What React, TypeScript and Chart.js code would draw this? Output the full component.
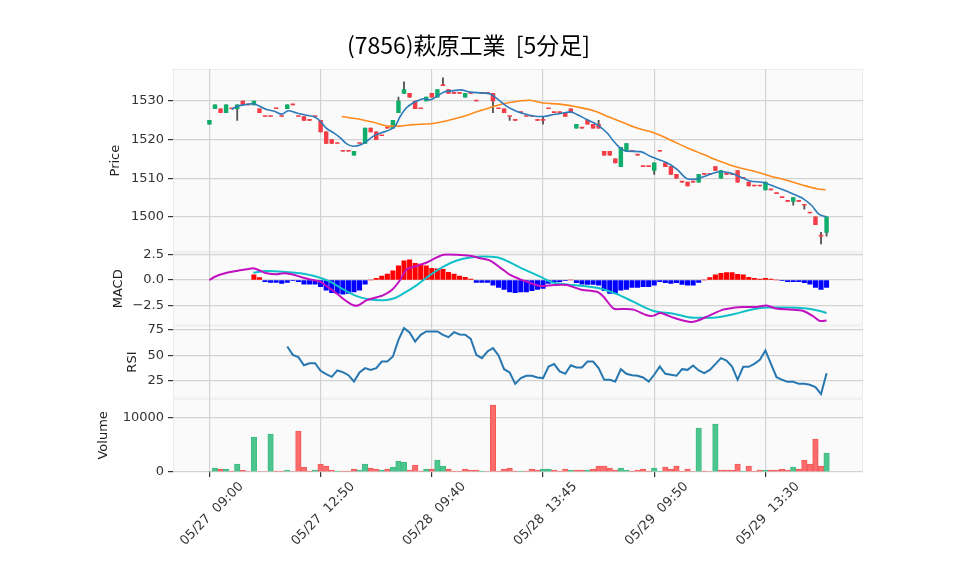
import { useEffect, useRef } from 'react';
import { Chart, registerables } from 'chart.js';

Chart.register(...registerables);

// ---------- data ----------
const titleText = '(7856)萩原工業  [5分足]';

const tickIndex = [0, 20, 40, 60, 80, 100];
const tickLabels = ['05/27  09:00', '05/27  12:50', '05/28  09:40', '05/28  13:45', '05/29  09:50', '05/29  13:30'];

const priceTicks = [1500, 1510, 1520, 1530];
const macdTicks = [-2.5, 0, 2.5];
const rsiTicks = [25, 50, 75];
const volumeTicks = [0, 10000];

const opens = [
  1524, 1528, 1528, 1527, 1528, 1528, 1530, 1529, 1529, 1528,
  1526, 1526, 1528, 1526, 1528, 1529, 1526, 1526, 1525, 1526,
  1525, 1522, 1520, 1519, 1517, 1517, 1516, 1519, 1519, 1523,
  1522, 1521, 1523, 1523, 1527, 1532, 1532, 1530, 1528, 1530,
  1532, 1531, 1534, 1533, 1532, 1532, 1531, 1532, 1530, 1532,
  1532, 1532, 1528, 1528, 1526, 1525, 1527, 1526, 1526, 1525,
  1525, 1528, 1527, 1527, 1527, 1528, 1523, 1523, 1525, 1524,
  1524, 1517, 1517, 1515, 1513, 1517, 1517, 1516, 1513, 1513,
  1512, 1517, 1514, 1513, 1511, 1509, 1509, 1509, 1509, 1511,
  1511, 1513, 1510, 1511, 1511, 1512, 1510, 1509, 1508, 1508,
  1507, 1507, 1506, 1505, 1504, 1504, 1504, 1503, 1501, 1500,
  1495, 1496,
];
const closes = [
  1525, 1529, 1527, 1529, 1528, 1529, 1529, 1529, 1530, 1527,
  1526, 1526, 1528, 1526, 1529, 1529, 1526, 1525, 1525, 1526,
  1522, 1519, 1519, 1519, 1517, 1517, 1517, 1519, 1523, 1522,
  1520, 1521, 1523, 1525, 1530, 1533, 1531, 1528, 1528, 1531,
  1531, 1533, 1534, 1532, 1532, 1532, 1532, 1532, 1530, 1532,
  1532, 1530, 1528, 1527, 1526, 1525, 1527, 1526, 1526, 1525,
  1525, 1528, 1527, 1527, 1526, 1527, 1524, 1523, 1524, 1523,
  1523, 1516, 1516, 1514, 1518, 1519, 1517, 1516, 1513, 1513,
  1514, 1517, 1513, 1511, 1510, 1509, 1508, 1509, 1511, 1511,
  1511, 1512, 1512, 1511, 1511, 1509, 1510, 1508, 1508, 1508,
  1509, 1507, 1506, 1505, 1504, 1505, 1504, 1503, 1501, 1498,
  1495, 1500,
];
const highs = [
  1525, 1529, 1528, 1529, 1528, 1529, 1530, 1529, 1530, 1528,
  1526, 1526, 1528, 1526, 1529, 1529, 1526, 1526, 1525, 1526,
  1525, 1522, 1520, 1519, 1517, 1517, 1517, 1519, 1523, 1523,
  1522, 1521, 1523, 1525, 1531, 1535, 1532, 1530, 1528, 1531,
  1532, 1533, 1536, 1533, 1532, 1532, 1532, 1532, 1530, 1532,
  1532, 1532, 1528, 1528, 1526, 1525, 1527, 1526, 1526, 1525,
  1526, 1528, 1527, 1527, 1527, 1528, 1524, 1523, 1525, 1524,
  1525, 1517, 1517, 1515, 1518, 1519, 1517, 1516, 1513, 1513,
  1514, 1517, 1514, 1513, 1511, 1509, 1509, 1509, 1511, 1511,
  1511, 1513, 1512, 1511, 1511, 1512, 1510, 1509, 1508, 1508,
  1509, 1507, 1506, 1505, 1504, 1505, 1504, 1503, 1501, 1500,
  1496, 1500,
];
const lows = [
  1524, 1528, 1527, 1527, 1528, 1525, 1529, 1529, 1529, 1527,
  1526, 1526, 1528, 1526, 1528, 1529, 1526, 1525, 1525, 1526,
  1522, 1519, 1519, 1519, 1517, 1517, 1516, 1519, 1519, 1522,
  1520, 1521, 1523, 1523, 1527, 1532, 1531, 1528, 1528, 1530,
  1531, 1531, 1534, 1532, 1532, 1532, 1531, 1532, 1530, 1532,
  1532, 1527, 1528, 1527, 1525, 1525, 1527, 1526, 1526, 1525,
  1524, 1528, 1527, 1527, 1526, 1527, 1523, 1523, 1524, 1523,
  1523, 1516, 1516, 1514, 1513, 1517, 1517, 1516, 1513, 1513,
  1511, 1517, 1513, 1511, 1510, 1509, 1508, 1509, 1509, 1511,
  1511, 1512, 1510, 1511, 1511, 1509, 1510, 1508, 1508, 1508,
  1507, 1507, 1506, 1505, 1504, 1503, 1504, 1502, 1501, 1498,
  1493, 1495,
];

const volumes = [
  100, 730, 490, 490, 180, 1460, 365, 100, 6390, 100,
  100, 6940, 180, 180, 365, 100, 7490, 850, 180, 365,
  1460, 1100, 365, 180, 180, 180, 550, 365, 1460, 730,
  550, 365, 550, 910, 2010, 1770, 365, 1280, 180, 550,
  550, 2190, 1100, 550, 180, 180, 550, 365, 365, 180,
  100, 12240, 180, 550, 730, 180, 180, 180, 550, 365,
  550, 550, 365, 180, 550, 365, 365, 365, 365, 550,
  1100, 1100, 730, 365, 730, 365, 180, 365, 550, 180,
  730, 180, 910, 550, 1100, 180, 550, 100, 8040, 180,
  100, 8770, 365, 365, 365, 1460, 180, 1100, 180, 365,
  365, 365, 365, 550, 365, 910, 550, 2190, 1460, 6030,
  1100, 3470,
];
// 1 = up (green) volume bar, 0 = down (red)
const volumeUp = [
  1, 1, 0, 1, 0, 1, 0, 0, 1, 0,
  0, 1, 0, 0, 1, 0, 0, 0, 0, 1,
  0, 0, 0, 1, 0, 0, 0, 1, 1, 0,
  0, 1, 0, 1, 1, 1, 0, 0, 0, 1,
  0, 1, 1, 0, 0, 0, 0, 0, 0, 1,
  0, 0, 0, 0, 0, 0, 1, 0, 0, 0,
  1, 1, 0, 0, 0, 1, 0, 0, 1, 0,
  0, 0, 0, 0, 1, 1, 0, 0, 0, 0,
  1, 1, 0, 0, 0, 0, 0, 0, 1, 0,
  0, 1, 0, 0, 0, 0, 1, 0, 0, 0,
  1, 0, 0, 0, 0, 1, 0, 0, 0, 0,
  0, 1,
];

// moving averages, read as [bar index, price]
const ma5Points = [
  [4, 1527.8], [4.9, 1528.6], [6.1, 1529.0], [7.9, 1529.3], [9.1, 1528.6], [10.3, 1527.8], [11.8, 1527.3],
  [13, 1526.6], [14.2, 1527.5], [15.7, 1526.9], [17.5, 1526.3], [19, 1525.8], [20, 1524.7], [21, 1523],
  [22.3, 1521.8], [23.5, 1520.5], [24.7, 1518.9], [25.9, 1518.3], [27.1, 1518.6], [28.3, 1519.6],
  [29.5, 1520.9], [31, 1521.8], [32.5, 1522.6], [33.4, 1523.5], [34.3, 1526], [35.4, 1528.2],
  [36.6, 1529.5], [37.8, 1530.3], [38.5, 1530.6], [39.7, 1530.3], [40.9, 1531.2], [42.1, 1532.3],
  [43.9, 1532.7], [45.1, 1532.9], [46.9, 1532.3], [49, 1532.1], [50.5, 1531.8], [52, 1530.3],
  [53.5, 1528.6], [55.3, 1527.3], [57.1, 1526.5], [58.9, 1526], [60.1, 1526], [61.9, 1526.5],
  [63.7, 1526.9], [64.9, 1527.2], [66, 1526.6], [67.9, 1525.2], [69.7, 1523.9], [71.5, 1521.8],
  [72.7, 1519.6], [73.9, 1517.8], [75.1, 1517], [77.5, 1516.9], [79.3, 1515.7], [80.5, 1515],
  [82.3, 1514], [84.1, 1512.3], [85.9, 1509.9], [87.1, 1509.7], [88.8, 1510.4], [90.6, 1511.3],
  [91.8, 1511.7], [93.6, 1511.4], [95.4, 1510.4], [97.2, 1509.3], [99.6, 1508.9], [101.4, 1508],
  [103.2, 1507], [105, 1505.9], [106.9, 1504.6], [108.4, 1502.8], [109.6, 1500.7], [111, 1500],
];
const ma25Points = [
  [23.8, 1526], [26.5, 1525.4], [29.5, 1524.5], [32.5, 1523.5], [34.3, 1523.5], [36.6, 1523.9],
  [39.7, 1524.1], [42.1, 1524.7], [45.1, 1525.8], [48.1, 1527.2], [51.1, 1528.6], [54, 1529.6],
  [57.4, 1530.2], [60, 1529.5], [63, 1529.2], [66, 1528.5], [69.1, 1527.5], [72, 1525.8],
  [73.9, 1524.7], [76.9, 1523], [79.9, 1521.8], [82.8, 1520], [85.9, 1517.9], [88.8, 1516.2],
  [91.8, 1514.4], [94.8, 1512.9], [97.8, 1511.9], [100.8, 1510.6], [103.8, 1509.5], [106.8, 1508.2],
  [109.2, 1507.3], [110.8, 1507],
];

// MACD panel, read as [bar index, value]
const macdPoints = [
  [0, 0], [1, 0.32], [2.8, 0.65], [4.9, 0.88], [6.7, 1.04], [7.9, 1.14], [9.1, 0.91], [10.3, 0.65],
  [12.1, 0.55], [13.3, 0.65], [14.8, 0.55], [16.3, 0.32], [18.1, 0.06], [19.9, -0.16], [21.4, -0.71],
  [22.9, -1.3], [24.4, -1.95], [25.9, -2.44], [26.8, -2.44], [28.3, -1.95], [29.8, -1.72], [31.3, -1.46],
  [32.8, -0.97], [34.3, 0], [35.5, 1.04], [37.3, 1.36], [39.1, 1.69], [40.6, 2.11], [42.1, 2.44],
  [44.5, 2.44], [46.9, 2.34], [48.7, 2.11], [50.5, 1.88], [52.3, 1.2], [54.1, 0.49], [55.9, 0.06],
  [57.1, -0.16], [59.5, -0.58], [61.9, -0.49], [64.3, -0.49], [66.7, -0.91], [69.7, -1.14], [70.9, -1.62],
  [72.7, -2.76], [74.5, -2.79], [76.3, -2.86], [78.7, -3.41], [79.9, -3.44], [81.1, -3.18], [83.5, -3.64],
  [86.5, -4.06], [87.6, -3.96], [90, -3.41], [92.4, -2.86], [94.2, -2.69], [96, -2.6], [98.4, -2.6],
  [100.2, -2.47], [102, -2.76], [104.4, -2.86], [106.8, -2.99], [108.6, -3.5], [109.8, -3.96], [111, -3.9],
];
const signalPoints = [
  [7.9, 0.71], [10.3, 0.88], [13.3, 0.81], [16.3, 0.65], [19.3, 0.32], [21.7, -0.16], [24.1, -0.91],
  [26.5, -1.56], [28.9, -1.88], [31.3, -1.95], [33.1, -1.79], [34.9, -1.3], [37.3, -0.49], [39.7, 0.49],
  [42.1, 1.3], [44.5, 1.88], [46.9, 2.18], [49.3, 2.27], [51.7, 2.21], [54.1, 1.69], [55.9, 1.2],
  [59.5, 0.32], [61.3, -0.16], [64.3, -0.42], [67.3, -0.58], [70.3, -0.81], [73.3, -1.36], [76.3, -2.11],
  [79.9, -2.99], [83.5, -3.25], [87.1, -3.64], [90.6, -3.64], [94.2, -3.31], [97.8, -2.82], [100.2, -2.66],
  [103.8, -2.66], [107.4, -2.76], [109.8, -2.99], [111, -3.18],
];
const macdHist = [
  null, null, null, null, null, null, null, null, 0.49, 0.23,
  -0.16, -0.23, -0.23, -0.32, -0.23, -0.06, -0.16, -0.39, -0.39, -0.39,
  -0.65, -0.97, -1.23, -1.3, -1.36, -1.3, -1.14, -0.97, -0.39, 0,
  0.16, 0.39, 0.58, 0.88, 1.36, 1.85, 1.95, 1.62, 1.53, 1.36,
  1.14, 1.07, 1.04, 0.75, 0.58, 0.39, 0.26, 0.1, -0.23, -0.23,
  -0.23, -0.49, -0.71, -0.91, -1.14, -1.23, -1.14, -1.14, -1.04, -0.91,
  -0.81, -0.32, -0.16, -0.16, -0.06, 0, -0.26, -0.39, -0.42, -0.42,
  -0.49, -1.04, -1.3, -1.3, -0.97, -0.91, -0.71, -0.71, -0.65, -0.65,
  -0.49, -0.16, -0.26, -0.32, -0.26, -0.42, -0.49, -0.49, -0.23, 0,
  0.23, 0.49, 0.65, 0.71, 0.71, 0.55, 0.49, 0.26, 0.16, 0.1,
  0.16, 0.1, 0, -0.06, -0.16, -0.16, -0.16, -0.26, -0.39, -0.71,
  -0.91, -0.71,
];

// RSI, per bar (starts at bar 14)
const rsiValues = [
  null, null, null, null, null, null, null, null, null, null,
  null, null, null, null, 58.6, 50.3, 48, 40, 42, 42,
  34.4, 31.1, 28.5, 34.8, 33.1, 30.1, 23.8, 32.8, 37.1, 35.4,
  37.1, 43.7, 43.7, 48.7, 65.2, 76.8, 72.5, 63.6, 70.2, 73.5,
  73.5, 73.5, 70.2, 67.9, 72.8, 70.5, 70.2, 66.2, 50.3, 47,
  53.6, 57, 49.7, 36, 32.8, 21.5, 27.2, 29.5, 29.5, 27.8,
  27.2, 38.7, 41.1, 33.8, 31.5, 40, 37.7, 37.7, 43.7, 43.7,
  37.1, 25.5, 25.5, 23.8, 36.1, 31.5, 30.1, 29.5, 27.8, 23.8,
  30.5, 38.7, 31.5, 30.5, 29.5, 36.1, 35.4, 39.7, 34.8, 32.1,
  35.4, 41.1, 47, 44.7, 38.7, 25.5, 38.4, 38.4, 41.4, 45.4,
  54.6, 41.4, 28.1, 25.5, 23.5, 23.5, 21.5, 21.5, 20.5, 18.2,
  11.3, 32.1,
];

// ---------- styling ----------
const TICK_FONT = { family: '"DejaVu Sans", sans-serif', size: 13 };
const UP = '#10ad6b';
const DOWN = '#f53d48';
const VOL_UP = '#4cc58f';
const VOL_UP_EDGE = '#3fba83';
const VOL_DOWN = '#ff6a6a';
const VOL_DOWN_EDGE = '#f05a5a';
const GRID = '#d3d3d3';

function makeY(opts: {
  weight: number; stackWeight: number; min: number; max: number; ticks: number[];
  title: string; titlePad: number; fmt: (v: number) => string;
}) {
  return {
    type: 'linear',
    position: 'left',
    stack: 'panels',
    stackWeight: opts.stackWeight,
    weight: opts.weight,
    min: opts.min,
    max: opts.max,
    afterBuildTicks: (s: any) => { s.ticks = opts.ticks.map((v) => ({ value: v })); },
    afterFit: (s: any) => { s.width = 173; },
    grid: { color: GRID, lineWidth: 1.2, tickColor: '#333', tickLength: 5 },
    border: { display: false },
    ticks: { font: TICK_FONT, color: '#333', padding: 4, callback: (v: any) => opts.fmt(Number(v)) },
    title: {
      display: true, text: opts.title, color: '#222', font: TICK_FONT,
      padding: { top: opts.titlePad, bottom: 0 },
    },
  };
}

export default function App() {
  const ref = useRef<HTMLCanvasElement>(null);

  useEffect(() => {
    const canvas = ref.current;
    if (!canvas) return;
    const idx = opens.map((_, i) => i);

    const panelBg = {
      id: 'panelBg',
      beforeDraw(chart: any) {
        const { ctx, chartArea } = chart;
        ctx.save();
        ctx.fillStyle = '#ffffff';
        ctx.fillRect(0, 0, chart.width, chart.height);
        ['yP', 'yM', 'yR', 'yV'].forEach((id) => {
          const s = chart.scales[id];
          ctx.fillStyle = '#fafafa';
          ctx.fillRect(chartArea.left, s.top, chartArea.right - chartArea.left, s.bottom - s.top);
          ctx.strokeStyle = '#ececec';
          ctx.lineWidth = 1;
          ctx.strokeRect(chartArea.left + 0.5, s.top + 0.5, chartArea.right - chartArea.left - 1, s.bottom - s.top - 1);
        });
        ctx.restore();
      },
      afterDraw(chart: any) {
        const { ctx } = chart;
        ctx.save();
        ctx.fillStyle = '#000';
        ctx.font = '23px "Noto Sans CJK JP", sans-serif';
        ctx.textAlign = 'center';
        ctx.textBaseline = 'middle';
        ctx.fillText(titleText, 468.5, 45);
        ctx.restore();
      },
    };

    const chart = new Chart(canvas, {
      type: 'bar',
      data: {
        datasets: [
          {
            type: 'line', label: 'MA5', yAxisID: 'yP', order: 0,
            data: ma5Points.map(([x, y]) => ({ x, y })),
            borderColor: '#2b7bba', borderWidth: 1.6, pointRadius: 0, cubicInterpolationMode: 'monotone',
          },
          {
            type: 'line', label: 'MA25', yAxisID: 'yP', order: 0,
            data: ma25Points.map(([x, y]) => ({ x, y })),
            borderColor: '#ff8a1c', borderWidth: 1.6, pointRadius: 0, cubicInterpolationMode: 'monotone',
          },
          {
            type: 'bar', label: 'body', yAxisID: 'yP', order: 1, grouped: false,
            data: idx.map((i) => ({ x: i, y: [opens[i], closes[i]] })),
            backgroundColor: idx.map((i) => (closes[i] > opens[i] ? UP : DOWN)),
            barThickness: 3.8, minBarLength: 1,
          },
          {
            type: 'bar', label: 'wick', yAxisID: 'yP', order: 2, grouped: false,
            data: idx.map((i) => ({ x: i, y: [lows[i], highs[i]] })),
            backgroundColor: '#555555', barThickness: 1.2,
          },
          {
            type: 'line', label: 'MACD', yAxisID: 'yM', order: 0,
            data: macdPoints.map(([x, y]) => ({ x, y })),
            borderColor: '#c010c0', borderWidth: 2, pointRadius: 0, tension: 0.25,
          },
          {
            type: 'line', label: 'Signal', yAxisID: 'yM', order: 0,
            data: signalPoints.map(([x, y]) => ({ x, y })),
            borderColor: '#10c0c8', borderWidth: 2, pointRadius: 0, cubicInterpolationMode: 'monotone',
          },
          {
            type: 'bar', label: 'Hist', yAxisID: 'yM', order: 1, grouped: false,
            data: idx.filter((i) => macdHist[i] !== null).map((i) => ({ x: i, y: macdHist[i] })),
            backgroundColor: idx.filter((i) => macdHist[i] !== null).map((i) => ((macdHist[i] as number) >= 0 ? '#ff0000' : '#0000ff')),
            barThickness: 4.4,
          },
          {
            type: 'line', label: 'RSI', yAxisID: 'yR', order: 0,
            data: idx.filter((i) => rsiValues[i] !== null).map((i) => ({ x: i, y: rsiValues[i] })),
            borderColor: '#2677b0', borderWidth: 2, pointRadius: 0, tension: 0,
          },
          {
            type: 'bar', label: 'Volume', yAxisID: 'yV', order: 1, grouped: false,
            data: idx.map((i) => ({ x: i, y: volumes[i] })),
            backgroundColor: idx.map((i) => (volumeUp[i] ? VOL_UP : VOL_DOWN)),
            borderColor: idx.map((i) => (volumeUp[i] ? VOL_UP_EDGE : VOL_DOWN_EDGE)),
            borderWidth: 1, barThickness: 5.5,
          },
        ] as any,
      },
      options: {
        responsive: false,
        animation: false,
        devicePixelRatio: 1,
        layout: { padding: { top: 69, left: 0, right: 95, bottom: 0 } },
        plugins: { legend: { display: false }, tooltip: { enabled: false }, title: { display: false } },
        scales: {
          x: {
            type: 'linear',
            position: 'bottom',
            offset: false,
            min: -6.55,
            max: 117.55,
            afterBuildTicks: (s: any) => { s.ticks = tickIndex.map((v) => ({ value: v })); },
            afterFit: (s: any) => { s.height = 103; },
            grid: { offset: false, color: GRID, lineWidth: 1.2, tickColor: '#333', tickLength: 5 },
            border: { display: false },
            ticks: {
              font: TICK_FONT, color: '#333', autoSkip: false, minRotation: 45, maxRotation: 45,
              labelOffset: 32, padding: 2,
              callback: (v: any) => {
                const k = tickIndex.indexOf(Number(v));
                return k >= 0 ? tickLabels[k] : '';
              },
            },
          },
          yP: makeY({ weight: 4, stackWeight: 5, min: 1490.85, max: 1538.3, ticks: priceTicks, title: 'Price', titlePad: 107.7, fmt: (v) => String(v) }),
          yM: makeY({ weight: 3, stackWeight: 2, min: -4.39, max: 2.69, ticks: macdTicks, title: 'MACD', titlePad: 111.2, fmt: (v) => v.toFixed(1).replace('-', '\u2212') }),
          yR: makeY({ weight: 2, stackWeight: 2, min: 6.7, max: 79.5, ticks: rsiTicks, title: 'RSI', titlePad: 124.7, fmt: (v) => String(v) }),
          yV: makeY({ weight: 1, stackWeight: 2, min: 0, max: 13400, ticks: volumeTicks, title: 'Volume', titlePad: 96.2, fmt: (v) => String(v) }),
        } as any,
      },
      plugins: [panelBg],
    });

    return () => chart.destroy();
  }, []);

  return (
    <div style={{ position: 'fixed', left: 0, top: 0, width: 958, height: 575, background: '#fff' }}>
      <canvas ref={ref} width={958} height={575} style={{ display: 'block' }} />
    </div>
  );
}
